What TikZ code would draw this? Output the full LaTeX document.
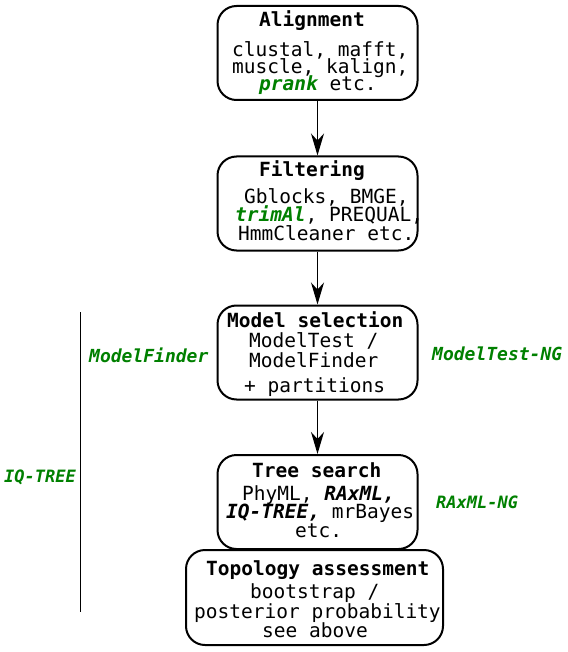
\documentclass[tikz,border=0pt]{standalone}
\usepackage{fontspec}
\setmainfont{DejaVu Sans Mono}
\usetikzlibrary{arrows.meta}
\definecolor{toolgreen}{RGB}{0,128,0}
\newcommand\hlgreen[1]{\textcolor{toolgreen}{\bfseries\itshape #1}}
\newcommand\bitext[1]{{\bfseries\itshape #1}}
\begin{document}
\begin{tikzpicture}[x=1pt,y=-1pt,
  box/.style={draw, line width=2pt, rounded corners=19pt, inner sep=0pt, minimum width=200pt, minimum height=94pt},
  txt/.style={anchor=base west, inner sep=0pt, font=\fontsize{19.5}{20}\selectfont},
  ttl/.style={anchor=base west, inner sep=0pt, font=\fontsize{19.5}{20}\selectfont\bfseries},
  side/.style={anchor=base west, inner sep=0pt, text=toolgreen, font=\fontsize{18}{20}\selectfont\bfseries\itshape},
  sidesmall/.style={side, font=\fontsize{17}{20}\selectfont\bfseries\itshape},
  flow/.style={line width=1.5pt, -{Stealth[length=22pt,width=13pt,inset=7pt]}}]
\useasboundingbox (0,0) rectangle (567,652);

% boxes
\node[box] (align) at (317.5,53) {};
\node[box] (filter) at (317.5,203.5) {};
\node[box] (model) at (317.5,352.5) {};
\node[box] (tree) at (317.5,502) {};
\node[box, minimum width=257pt, minimum height=95pt] (topo) at (314.5,597.5) {};

% Alignment
\node[ttl] (a0) at (259,27) {Alignment};
\node[txt] (a1) at (232,57) {clustal, mafft,};
\node[txt] (a2) at (232,74) {muscle, kalign,};
\node[txt] (a3) at (259,91) {\hlgreen{prank} etc.};

% Filtering
\node[ttl] (f0) at (259,177) {Filtering};
\node[txt] (f1) at (244,204) {Gblocks, BMGE,};
\node[txt] (f2) at (235,222) {\hlgreen{trimAl}, PREQUAL,};
\node[txt] (f3) at (238,240) {HmmCleaner etc.};

% Model selection
\node[ttl] (m0) at (227,327) {Model selection};
\node[txt] (m1) at (249,347) {ModelTest /};
\node[txt] (m2) at (249,367) {ModelFinder};
\node[txt] (m3) at (244,392) {+ partitions};

% Tree search
\node[ttl] (t0) at (252,477) {Tree search};
\node[txt] (t1) at (242,500) {PhyML, \bitext{RAxML,}};
\node[txt] (t2) at (226,518) {\bitext{IQ-TREE,} mrBayes};
\node[txt] (t3) at (295,537) {etc.};

% Topology assessment
\node[ttl] (p0) at (206,575) {Topology assessment};
\node[txt] (p1) at (250,598) {bootstrap /};
\node[txt] (p2) at (194,618) {posterior probability};
\node[txt] (p3) at (262,637) {see above};

% side labels
\node[side] (mf) at (89,362) {ModelFinder};
\node[side] (mt) at (432,360) {ModelTest-NG};
\node[sidesmall] (rx) at (436,508) {RAxML-NG};
\node[sidesmall] (iq) at (4,482) {IQ-TREE};

\coordinate (lt) at (80,312);
\coordinate (lb) at (80,612);
\draw[line width=1pt] (lt) -- (lb);

% arrows
\draw[flow] (align) -- (filter);
\draw[flow] (filter) -- (model);
\draw[flow] (model) -- (tree);
\end{tikzpicture}
\end{document}
